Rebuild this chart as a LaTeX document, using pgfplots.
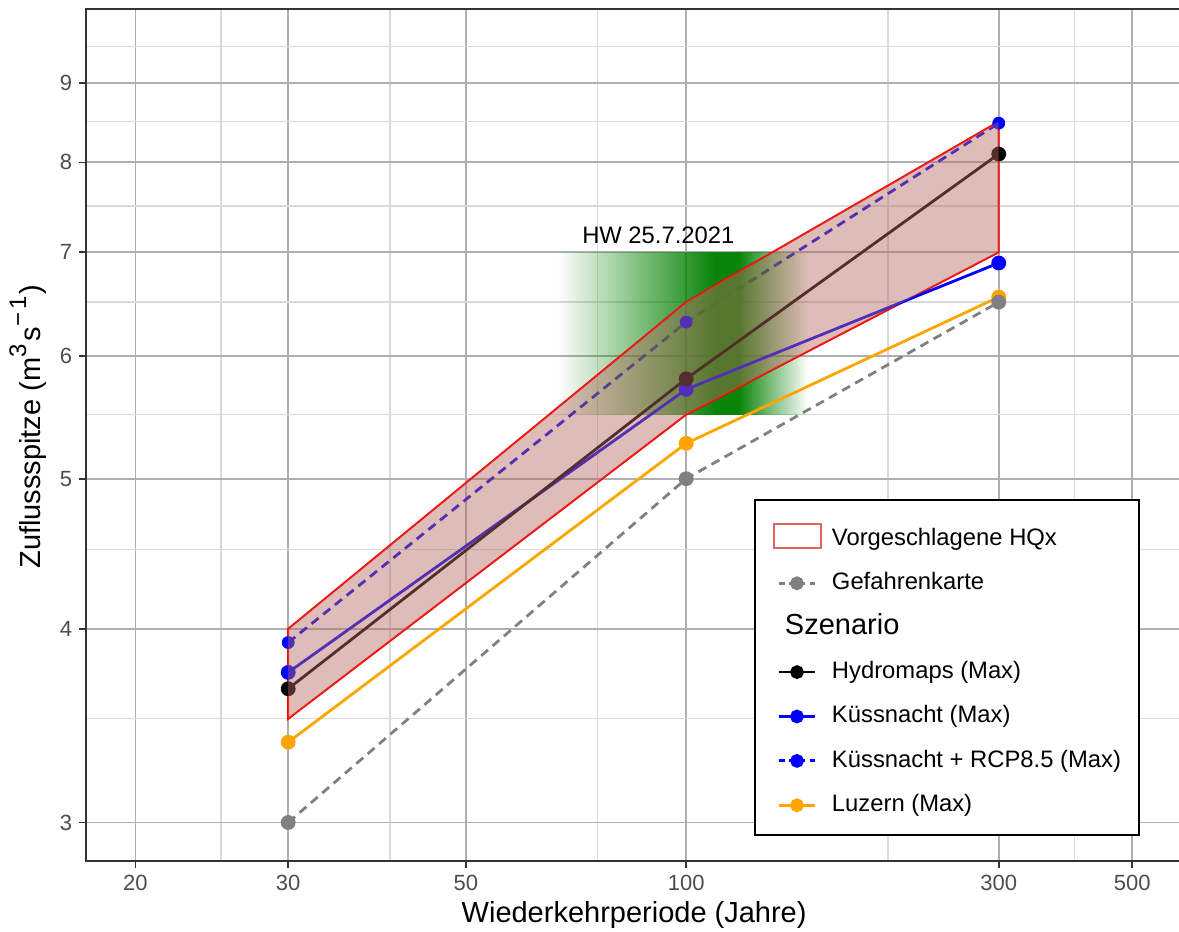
\documentclass[border=0pt]{standalone}
\usepackage{fontspec}
\setmainfont{Liberation Sans}
\usepackage{pgfplots}
\pgfplotsset{compat=1.18}
\usetikzlibrary{fadings}

\definecolor{hwgreen}{RGB}{0,128,0}
\definecolor{ribfill}{RGB}{182,106,95}
\definecolor{gefgrey}{RGB}{128,128,128}
\definecolor{luzorange}{RGB}{255,165,0}
\definecolor{gridmaj}{RGB}{175,175,175}
\definecolor{gridmin}{RGB}{218,218,218}
\definecolor{axgrey}{RGB}{51,51,51}
\definecolor{tickgrey}{RGB}{77,77,77}
\definecolor{keyred}{RGB}{228,100,100}

% horizontal opacity profile of the HW band (black = transparent, white = opaque)
\pgfdeclarehorizontalshading{hwshading}{100bp}{color(0bp)=(black); color(25bp)=(black); color(56.5bp)=(white!97!black); color(61bp)=(white!97!black); color(75bp)=(black); color(100bp)=(black)}
\pgfdeclarefading{hwfade}{\pgfuseshading{hwshading}}

% x positions: normal-probability scale, z = qnorm(1 - 1/T)
% T = 30 -> 1.833915, T = 100 -> 2.326348, T = 300 -> 2.713020

\begin{document}
\begin{tikzpicture}
\begin{axis}[
  at={(0pt,0pt)}, anchor=south west,
  scale only axis, width=547.85pt, height=426.1pt,
  xmin=1.58410, xmax=2.93978,
  ymode=log, ymin=2.8332, ymax=10.051,
  xtick={1.644854,1.833915,2.053749,2.326348,2.713020,2.878162},
  xticklabels={20,30,50,100,300,500},
  minor xtick={1.750686,1.959964,2.216480,2.575829,2.807034},
  ytick={3,4,5,6,7,8,9},
  yticklabels={3,4,5,6,7,8,9},
  minor ytick={3.5,4.5,5.5,6.5,7.5,8.5,9.5},
  grid=both,
  major grid style={draw=gridmaj, line width=0.9pt},
  minor grid style={draw=gridmin, line width=0.7pt},
  tick align=outside, tick pos=left,
  major tick length=3.5pt, minor tick length=0pt,
  tick style={draw=axgrey, line width=0.85pt},
  axis line style={draw=axgrey, line width=0.85pt},
  tick label style={font=\fontsize{11}{13}\selectfont, text=tickgrey},
  clip marker paths=true,
  xlabel={Wiederkehrperiode (Jahre)},
  ylabel={Zuflussspitze (m\raisebox{0.5em}{\fontsize{12}{12}\selectfont 3}\kern1.5pts\raisebox{0.5em}{\fontsize{12}{12}\selectfont −\kern1.5pt1}\kern1pt)},
  every axis x label/.style={at={(axis description cs:0.5,-0.07252)}, anchor=base, font=\fontsize{14.5}{17}\selectfont},
  every axis y label/.style={at={(axis description cs:-0.04162,0.5097)}, rotate=90, anchor=base, font=\fontsize{14.5}{17}\selectfont},
  legend style={at={(axis description cs:0.60938,0.42478)}, anchor=north west,
    draw=black, line width=1pt, fill=white,
    inner xsep=9pt, inner ysep=5.95pt, row sep=0pt, column sep=5pt,
    font=\fontsize{11.9}{14}\selectfont,
    nodes={inner sep=0pt, text height=16.7pt, text depth=5.5pt}},
  legend cell align=left,
  legend image code/.code={\draw[mark repeat=2,mark phase=2,#1] plot coordinates {(2.35pt,-2.4pt) (11.5pt,-2.4pt) (20.65pt,-2.4pt)};},
]

% Küssnacht + RCP8.5 line (lies beneath the HW band)
\addplot[blue, line width=1.4pt, dash pattern=on 4.5pt off 3pt, forget plot]
  coordinates {(1.833915,3.92) (2.326348,6.31) (2.713020,8.48)};

% HW 25.7.2021 band (T about 67 to 150, darkest about 110 to 125)
\addplot[draw=none, fill=hwgreen, path fading=hwfade, fit fading=true, forget plot]
  coordinates {(2.1677,5.5) (2.4770,5.5) (2.4770,7.0) (2.1677,7.0)} -- cycle;

% Vorgeschlagene HQx outline
\addplot[red, line width=1pt, forget plot]
  coordinates {(1.833915,4.0) (2.326348,6.5) (2.713020,8.5) (2.713020,7.0) (2.326348,5.5) (1.833915,3.5)} -- cycle;

% Luzern (Max)
\addplot[luzorange, line width=1.4pt, mark=*, mark size=3pt, forget plot]
  coordinates {(1.833915,3.38) (2.326348,5.27) (2.713020,6.55)};
% Gefahrenkarte
\addplot[gefgrey, line width=1.4pt, dash pattern=on 4.5pt off 3pt, mark=*, mark size=3pt, mark options={solid}, forget plot]
  coordinates {(1.833915,3.0) (2.326348,5.0) (2.713020,6.5)};
% Küssnacht (Max)
\addplot[blue, line width=1.4pt, mark=*, mark size=3pt, forget plot]
  coordinates {(1.833915,3.75) (2.326348,5.71) (2.713020,6.89)};
% Hydromaps (Max)
\addplot[black, line width=1.4pt, mark=*, mark size=3pt, forget plot]
  coordinates {(1.833915,3.66) (2.326348,5.80) (2.713020,8.10)};
% Küssnacht + RCP8.5 points
\addplot[blue, only marks, mark=*, mark size=3pt, forget plot]
  coordinates {(1.833915,3.92) (2.326348,6.31) (2.713020,8.48)};

% Vorgeschlagene HQx fill
\addplot[draw=none, fill=ribfill, fill opacity=0.45, forget plot]
  coordinates {(1.833915,4.0) (2.326348,6.5) (2.713020,8.5) (2.713020,7.0) (2.326348,5.5) (1.833915,3.5)} -- cycle;

\node[anchor=base, font=\fontsize{11.9}{14}\selectfont] at (axis cs:2.29185,7.094) {HW 25.7.2021};

% legend
\addlegendimage{legend image code/.code={\draw[keyred, line width=1pt, fill=white] (0pt,-6.95pt) rectangle (23.5pt,5.05pt);}}
\addlegendentry{Vorgeschlagene HQx}
\addlegendimage{gefgrey, line width=1.4pt, dash pattern=on 3pt off 2.2pt, mark=*, mark size=2.75pt, mark options={solid}}
\addlegendentry{Gefahrenkarte}
\addlegendimage{empty legend}
\addlegendentry{\hspace*{-23.5pt}\fontsize{14.5}{17}\selectfont Szenario}
\addlegendimage{black, line width=1.4pt, mark=*, mark size=2.75pt}
\addlegendentry{Hydromaps (Max)}
\addlegendimage{blue, line width=1.4pt, mark=*, mark size=2.75pt}
\addlegendentry{Küssnacht (Max)}
\addlegendimage{blue, line width=1.4pt, dash pattern=on 3pt off 2.2pt, mark=*, mark size=2.75pt, mark options={solid}}
\addlegendentry{Küssnacht + RCP8.5 (Max)}
\addlegendimage{luzorange, line width=1.4pt, mark=*, mark size=2.75pt}
\addlegendentry{Luzern (Max)}
\end{axis}
\pgfresetboundingbox
\useasboundingbox (-43.15pt,-35.5pt) rectangle (546.35pt,430.5pt);
\end{tikzpicture}
\end{document}
